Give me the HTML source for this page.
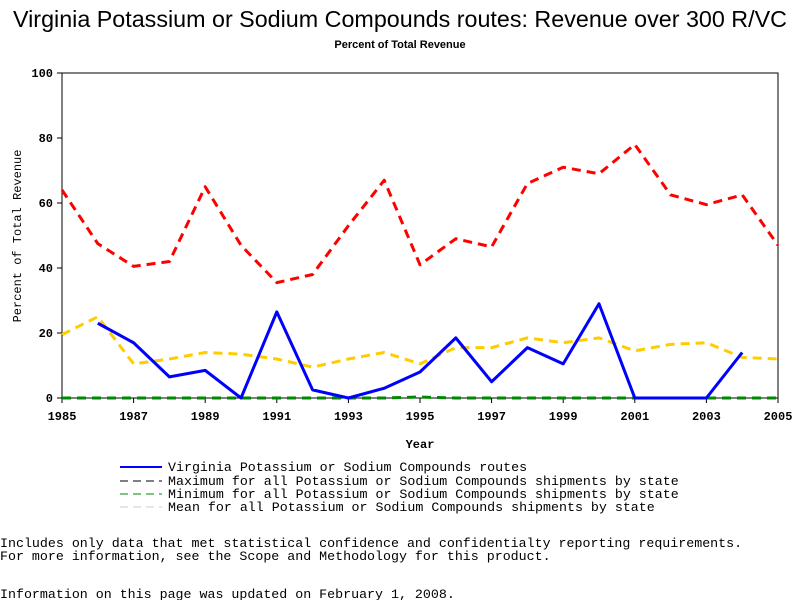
<!DOCTYPE html>
<html><head><meta charset="utf-8"><style>
body{margin:0;background:#fff;width:800px;height:600px;overflow:hidden}
svg{display:block}
</style></head><body>
<svg id="c" width="800" height="600" font-family="Liberation Mono, monospace">
<text x="400" y="27" text-anchor="middle" font-family="Liberation Sans, sans-serif" font-size="23.3">Virginia Potassium or Sodium Compounds routes: Revenue over 300 R/VC</text>
<text x="400" y="48" text-anchor="middle" font-family="Liberation Sans, sans-serif" font-size="11" font-weight="bold">Percent of Total Revenue</text>
<rect x="62" y="73" width="716" height="325" fill="none" stroke="#000"/>
<g id="axes"></g>
<g id="series"></g>
<text x="420" y="448" text-anchor="middle" font-size="12" font-weight="bold">Year</text>
<text transform="translate(21,236) rotate(-90)" text-anchor="middle" font-size="12">Percent of Total Revenue</text>
<g font-size="13.3">
<line x1="120" y1="467" x2="162" y2="467" stroke="#00f" stroke-width="2"/>
<text x="168" y="471">Virginia Potassium or Sodium Compounds routes</text>
<line x1="120" y1="481" x2="162" y2="481" stroke="#000" stroke-dasharray="8,5"/>
<text x="168" y="485">Maximum for all Potassium or Sodium Compounds shipments by state</text>
<line x1="120" y1="494" x2="162" y2="494" stroke="#080" stroke-dasharray="8,5"/>
<text x="168" y="498">Minimum for all Potassium or Sodium Compounds shipments by state</text>
<line x1="120" y1="507" x2="162" y2="507" stroke="#ccc" stroke-dasharray="8,5"/>
<text x="168" y="511">Mean for all Potassium or Sodium Compounds shipments by state</text>
</g>
<g font-size="13.3">
<text x="0" y="547">Includes only data that met statistical confidence and confidentialty reporting requirements.</text>
<text x="0" y="560">For more information, see the Scope and Methodology for this product.</text>
<text x="0" y="598">Information on this page was updated on February 1, 2008.</text>
</g>
</svg>
<script>
const years=[1985,1986,1987,1988,1989,1990,1991,1992,1993,1994,1995,1996,1997,1998,1999,2000,2001,2002,2003,2004,2005];
const maxVals=[64,47.5,40.5,42,65,47,35.5,38,53,67,41,49,46.5,66,71,69,78,62.5,59.5,62.5,47];
const meanVals=[19.5,25,10.5,12,14,13.5,12,9.5,12,14,10.5,15.5,15.5,18.5,17,18.5,14.5,16.5,17,12.5,12];
const minVals=[0,0,0,0,0,0,0,0,0,0,0.3,0,0,0,0,0,0,0,0,0,0];
const vaVals=[null,23,17,6.5,8.5,0,26.5,2.5,0,3,8,18.5,5,15.5,10.5,29,0,0,0,14,null];
const yTicks=[0,20,40,60,80,100];
const xTicks=[1985,1987,1989,1991,1993,1995,1997,1999,2001,2003,2005];
const NS="http://www.w3.org/2000/svg";
const X=y=>62+(y-1985)*(716/20), Y=v=>398-v*3.25;
const ax=document.getElementById('axes'), se=document.getElementById('series');
function mk(tag,at,p){const e=document.createElementNS(NS,tag);for(const k in at)e.setAttribute(k,at[k]);p.appendChild(e);return e;}
yTicks.forEach(t=>{
 const l=mk('line',{x1:57,x2:62,y1:Y(t),y2:Y(t),stroke:'#000'},ax);
 
 
 const tx=mk('text',{x:53,y:Y(t)+4,'text-anchor':'end','font-size':12,'font-weight':'bold'},ax);tx.textContent=t;
 
 
});
xTicks.forEach(t=>{
 const l=mk('line',{x1:X(t),x2:X(t),y1:398,y2:403,stroke:'#000'},ax);
 
 
 const tx=mk('text',{x:X(t),y:420,'text-anchor':'middle','font-size':12,'font-weight':'bold'},ax);tx.textContent=t;
 
 
});
function line(vals,color,dash,w,name){
 let d='',pen=false;
 vals.forEach((v,i)=>{if(v==null){pen=false;return;}d+=(pen?'L':'M')+X(years[i])+' '+Y(v);pen=true;});
 const p=mk('path',{d:d,fill:'none',stroke:color,'stroke-width':w,'stroke-dasharray':dash||'none','stroke-linejoin':'round'},se);
 
 
}
line(minVals,'#080','9,6',3,'min-line');
line(meanVals,'#fc0','9,6',3,'mean-line');
line(maxVals,'#f00','9,6',3,'max-line');
line(vaVals,'#00f','',3,'virginia-line');
</script>
</body></html>
